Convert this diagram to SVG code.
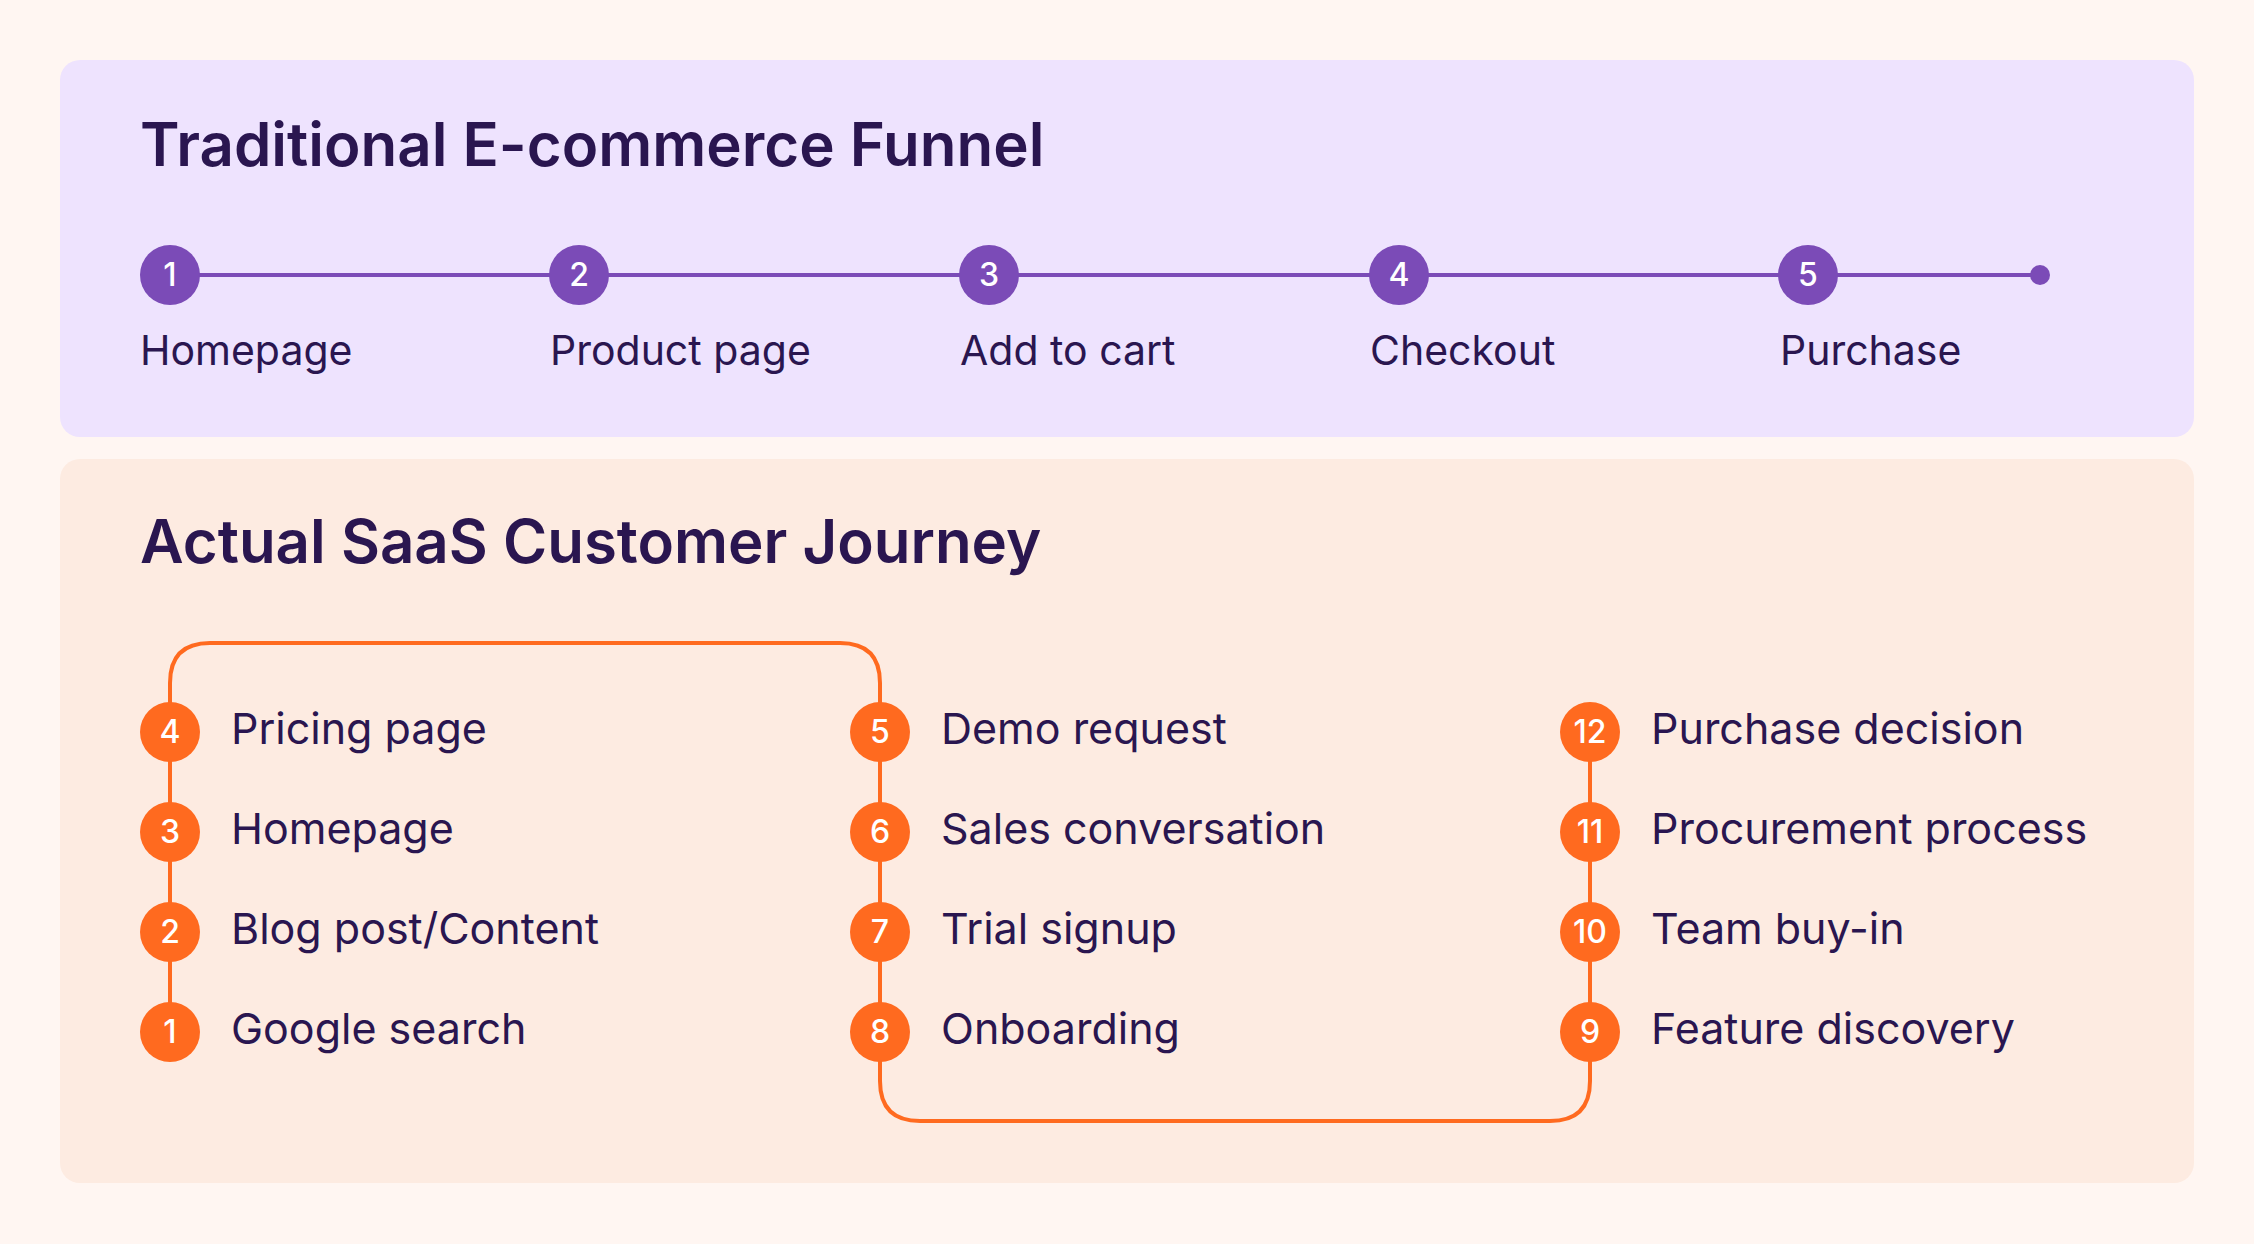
<svg xmlns="http://www.w3.org/2000/svg" width="2254" height="1244" viewBox="0 0 2254 1244">
<style>
text{font-family:Inter,"Noto Sans",sans-serif;fill:#2A1650}
.t{font-size:60px;font-weight:600}
.l{font-size:41px}
.j{font-size:43px}
.pc{fill:#7B4BB7}
.oc{fill:#FF6A1F}
.n{font-size:32px;fill:#fff;text-anchor:middle;font-weight:500}
.pl{stroke:#7B4BB7;stroke-width:4;fill:none}
.ol{stroke:#FF6A1F;stroke-width:4;fill:none}
</style>
<rect width="2254" height="1244" fill="#FFF6F2"/>
<rect x="60" y="60" width="2134" height="377" rx="20" fill="#EEE3FE"/>
<rect x="60" y="459" width="2134" height="724" rx="20" fill="#FDEBE1"/>
<text class="t" x="140" y="166">Traditional E-commerce Funnel</text>
<text class="t" x="140" y="563">Actual SaaS Customer Journey</text>
<g id="connectors">
<line class="pl" x1="170" y1="275" x2="2040" y2="275"/>
<path class="ol" d="M170 1032 V683 Q170 643 210 643 H840 Q880 643 880 683 V1081 Q880 1121 920 1121 H1550 Q1590 1121 1590 1081 V732"/>
</g>
<circle cx="2040" cy="275" r="10" class="pc"/>
<g id="f1"><circle cx="170" cy="275" r="30" class="pc"/><text class="n" x="170" y="286">1</text><text class="l" x="140" y="365">Homepage</text></g>
<g id="f2"><circle cx="579" cy="275" r="30" class="pc"/><text class="n" x="579" y="286">2</text><text class="l" x="550" y="365">Product page</text></g>
<g id="f3"><circle cx="989" cy="275" r="30" class="pc"/><text class="n" x="989" y="286">3</text><text class="l" x="960" y="365">Add to cart</text></g>
<g id="f4"><circle cx="1399" cy="275" r="30" class="pc"/><text class="n" x="1399" y="286">4</text><text class="l" x="1370" y="365">Checkout</text></g>
<g id="f5"><circle cx="1808" cy="275" r="30" class="pc"/><text class="n" x="1808" y="286">5</text><text class="l" x="1780" y="365">Purchase</text></g>
<g id="j4"><circle cx="170" cy="732" r="30" class="oc"/><text class="n" x="170" y="743">4</text><text class="j" x="231" y="744">Pricing page</text></g>
<g id="j3"><circle cx="170" cy="832" r="30" class="oc"/><text class="n" x="170" y="843">3</text><text class="j" x="231" y="844">Homepage</text></g>
<g id="j2"><circle cx="170" cy="932" r="30" class="oc"/><text class="n" x="170" y="943">2</text><text class="j" x="231" y="944">Blog post/Content</text></g>
<g id="j1"><circle cx="170" cy="1032" r="30" class="oc"/><text class="n" x="170" y="1043">1</text><text class="j" x="231" y="1044">Google search</text></g>
<g id="j5"><circle cx="880" cy="732" r="30" class="oc"/><text class="n" x="880" y="743">5</text><text class="j" x="941" y="744">Demo request</text></g>
<g id="j6"><circle cx="880" cy="832" r="30" class="oc"/><text class="n" x="880" y="843">6</text><text class="j" x="941" y="844">Sales conversation</text></g>
<g id="j7"><circle cx="880" cy="932" r="30" class="oc"/><text class="n" x="880" y="943">7</text><text class="j" x="941" y="944">Trial signup</text></g>
<g id="j8"><circle cx="880" cy="1032" r="30" class="oc"/><text class="n" x="880" y="1043">8</text><text class="j" x="941" y="1044">Onboarding</text></g>
<g id="j12"><circle cx="1590" cy="732" r="30" class="oc"/><text class="n" x="1590" y="743">12</text><text class="j" x="1651" y="744">Purchase decision</text></g>
<g id="j11"><circle cx="1590" cy="832" r="30" class="oc"/><text class="n" x="1590" y="843">11</text><text class="j" x="1651" y="844">Procurement process</text></g>
<g id="j10"><circle cx="1590" cy="932" r="30" class="oc"/><text class="n" x="1590" y="943">10</text><text class="j" x="1651" y="944">Team buy-in</text></g>
<g id="j9"><circle cx="1590" cy="1032" r="30" class="oc"/><text class="n" x="1590" y="1043">9</text><text class="j" x="1651" y="1044">Feature discovery</text></g>
</svg>
